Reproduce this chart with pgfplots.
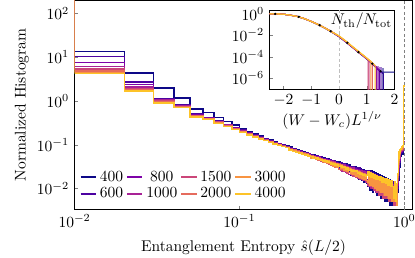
\documentclass[border=0pt]{standalone}
\usepackage{pgfplots}
\pgfplotsset{compat=1.18}
\usepackage{pgfplotstable}
\usetikzlibrary{calc}
\definecolor{c1}{HTML}{0D0887}
\definecolor{c2}{HTML}{4C02A1}
\definecolor{c3}{HTML}{7E03A8}
\definecolor{c4}{HTML}{A82296}
\definecolor{c5}{HTML}{CB4679}
\definecolor{c6}{HTML}{E56B5D}
\definecolor{c7}{HTML}{F89441}
\definecolor{c8}{HTML}{FDC328}
\pgfplotstableread{
s a b c d e f g h
0.005 300 300 300 300 300 300 300 300
0.01 13.5 10.4 7.5 6.1 5.4 4.9 4.5 4.2
0.02 4.4 2.7 2.4 2.1 1.95 1.85 1.75 1.7
0.03 2.0 1.15 1.1 1.05 1.0 0.95 0.92 0.9
0.04 1.17 0.82 0.8 0.78 0.76 0.74 0.72 0.7
0.05 0.65 0.5 0.48 0.47 0.46 0.45 0.44 0.43
0.06 0.54 0.42 0.41 0.40 0.40 0.39 0.39 0.38
0.07 0.42 0.35 0.34 0.33 0.33 0.32 0.32 0.31
0.08 0.34 0.29 0.285 0.28 0.275 0.27 0.265 0.26
0.09 0.28 0.25 0.24 0.235 0.23 0.228 0.225 0.22
0.10 0.235 0.215 0.21 0.205 0.2 0.198 0.195 0.192
0.11 0.2 0.19 0.185 0.18 0.177 0.174 0.171 0.168
0.12 0.178 0.17 0.165 0.16 0.157 0.155 0.153 0.151
0.13 0.158 0.152 0.148 0.145 0.142 0.14 0.138 0.136
0.14 0.14 0.136 0.133 0.13 0.128 0.126 0.125 0.124
0.15 0.128 0.124 0.121 0.119 0.117 0.116 0.115 0.114
0.16 0.118 0.114 0.112 0.11 0.108 0.107 0.106 0.104
0.17 0.108 0.105 0.103 0.101 0.1 0.099 0.098 0.097
0.18 0.1 0.098 0.096 0.094 0.093 0.092 0.091 0.09
0.19 0.094 0.091 0.089 0.088 0.087 0.086 0.085 0.085
0.20 .088 .084 .082 .080 .079 .078 .077 .076
0.21 .078 .080 .074 .077 .072 .075 .073 .071
0.22 .076 .070 .074 .069 .072 .068 .070 .067
0.23 .070 .072 .066 .068 .064 .066 .063 .065
0.24 .069 .064 .067 .061 .065 .060 .062 .059
0.25 .062 .066 .058 .062 .057 .061 .056 .058
0.26 .063 .058 .061 .055 .059 .054 .057 .055
0.27 .056 .060 .053 .057 .051 .055 .050 .053
0.28 .058 .053 .056 .050 .054 .048 .052 .049
0.29 .051 .055 .047 .053 .049 .051 .046 .050
0.30 .054 .049 .052 .045 .050 .044 .048 .046
0.31 .047 .052 .044 .049 .042 .047 .043 .045
0.32 .050 .045 .048 .041 .046 .040 .045 .042
0.33 .044 .048 .040 .046 .041 .044 .039 .043
0.34 .047 .042 .045 .038 .043 .037 .042 .040
0.35 .038 .045 .039 .043 .036 .041 .038 .039
0.36 .044 .037 .042 .035 .040 .034 .039 .036
0.37 .035 .042 .034 .040 .033 .038 .032 .037
0.38 .041 .034 .039 .032 .037 .031 .036 .034
0.39 .031 .039 .033 .037 .030 .036 .031 .035
0.40 .040 .031 .037 .028 .036 .027 .034 .032
0.41 .027 .038 .030 .035 .026 .034 .029 .033
0.42 .037 .029 .035 .025 .033 .027 .032 .030
0.43 .024 .036 .028 .034 .024 .032 .026 .031
0.44 .036 .027 .033 .023 .031 .025 .030 .028
0.45 .022 .034 .026 .032 .022 .030 .024 .029
0.46 .034 .025 .031 .021 .029 .023 .028 .026
0.47 .020 .032 .024 .030 .021 .028 .022 .027
0.48 .032 .023 .030 .020 .027 .021 .027 .025
0.49 .019 .031 .022 .029 .019 .027 .021 .026
0.50 .031 .022 .028 .019 .026 .020 .025 .024
0.51 .018 .030 .021 .027 .018 .026 .019 .025
0.52 .029 .020 .027 .017 .025 .019 .024 .022
0.53 .016 .029 .020 .026 .017 .024 .018 .023
0.54 .028 .019 .026 .016 .023 .017 .023 .021
0.55 .015 .027 .018 .025 .016 .023 .017 .022
0.56 .027 .018 .025 .015 .022 .016 .022 .020
0.57 .014 .026 .017 .024 .015 .022 .016 .021
0.58 .026 .017 .024 .014 .021 .015 .021 .019
0.59 .013 .025 .016 .023 .014 .021 .015 .020
0.60 .011 .026 .015 .024 .012 .022 .014 .024
0.61 .026 .014 .023 .011 .021 .013 .020 .019
0.62 .009 .024 .013 .022 .011 .020 .012 .023
0.63 .025 .013 .022 .010 .020 .012 .019 .018
0.64 .008 .023 .012 .021 .010 .019 .011 .022
0.65 .024 .012 .021 .009 .019 .011 .018 .017
0.66 .010 .022 .011 .020 .009 .018 .010 .021
0.67 .023 .011 .020 .008 .018 .010 .017 .016
0.68 .007 .021 .010 .019 .008 .017 .009 .020
0.69 .022 .010 .019 .008 .017 .009 .016 .016
0.70 .008 .020 .010 .018 .007 .016 .009 .019
0.71 .021 .009 .018 .007 .016 .008 .015 .015
0.72 .006 .019 .009 .017 .007 .015 .008 .019
0.73 .020 .009 .017 .007 .015 .008 .014 .014
0.74 .006 .018 .008 .016 .006 .015 .008 .018
0.75 .019 .008 .016 .006 .014 .007 .014 .014
0.76 .005 .017 .008 .015 .006 .014 .007 .017
0.77 .018 .007 .015 .006 .014 .007 .013 .013
0.78 .005 .016 .007 .015 .006 .013 .007 .017
0.79 .017 .007 .014 .006 .013 .006 .012 .012
0.80 .005 .016 .007 .014 .005 .013 .006 .016
0.81 .016 .006 .014 .005 .012 .006 .012 .012
0.82 .004 .015 .006 .013 .005 .012 .006 .015
0.83 .015 .006 .013 .005 .012 .006 .011 .011
0.84 .004 .014 .006 .013 .005 .011 .005 .015
0.85 .014 .006 .012 .005 .011 .005 .011 .011
0.86 .004 .014 .005 .012 .004 .011 .005 .006
0.87 .013 .005 .012 .004 .011 .005 .010 .014
0.88 .004 .013 .005 .011 .004 .010 .005 .009
0.89 .013 .005 .011 .004 .010 .005 .010 .005
0.90 .004 .012 .005 .011 .004 .010 .004 .013
0.91 .008 .010 .012 .014 .016 .018 .020 .022
0.92 .015 .020 .025 .030 .035 .040 .045 .050
0.93 .030 .040 .045 .050 .055 .060 .065 .068
0.94 .045 .055 .060 .065 .068 .070 .072 .075
0.95 .055 .062 .066 .070 .072 .075 .078 .080
0.96 .060 .066 .070 .073 .076 .078 .080 .085
0.97 .065 .070 .073 .076 .079 .082 .085 .090
0.98 .070 .074 .077 .080 .083 .086 .090 .095
0.99 .06 .08 .10 .12 .2 .4 1.0 2.2
1.00 .06 .08 .10 .12 .2 .4 1.0 2.2
}\hist
\begin{document}
\begin{tikzpicture}
\begin{axis}[name=main, scale only axis, width=217.7pt, height=134.7pt,
  xmode=log, ymode=log, xmin=0.01, xmax=1.12, ymin=0.0033, ymax=200,
  xtick={0.01,0.1,1}, ytick={0.01,0.1,1,10,100},
  xminorticks=false, yminorticks=false,
  tick pos=left, tick align=inside, major tick length=2.5pt,
  axis line style={line width=0.8pt},
  xlabel={Entanglement Entropy $\hat{s}(L/2)$},
  ylabel={Normalized Histogram},
  xlabel style={at={(axis description cs:0.5,-0.202)}, anchor=base},
  ylabel style={at={(axis description cs:-0.145,0.5)}, anchor=base},
  legend style={draw=none, fill=none, at={(axis description cs:0.01,0.02)}, anchor=south west,
    inner sep=1pt, row sep=-1.5pt, /tikz/every even column/.append style={column sep=0pt}},
  legend columns=2, transpose legend,
  legend image code/.code={\draw[#1] (0pt,0pt) -- (10pt,0pt);},
  every axis plot/.append style={const plot, line width=0.9pt},
]
\addplot[c1] table[x=s,y=a]{\hist};
\addplot[c2] table[x=s,y=b]{\hist};
\addplot[c3] table[x=s,y=c]{\hist};
\addplot[c4] table[x=s,y=d]{\hist};
\addplot[c5] table[x=s,y=e]{\hist};
\addplot[c6] table[x=s,y=f]{\hist};
\addplot[c7] table[x=s,y=g]{\hist};
\addplot[c8] table[x=s,y=h]{\hist};
\legend{400,600,800,1000,1500,2000,3000,4000}
\addplot[gray, line width=0.6pt, dash pattern=on 2pt off 1.5pt, forget plot] coordinates {(1,0.001) (1,1000)};
\end{axis}
\begin{axis}[name=inset, at={($(main.south west)+(125.7pt,77.6pt)$)}, anchor=south west,
  scale only axis, width=80.5pt, height=50.6pt,
  xmin=-2.5, xmax=2, ymode=log, ymin=1e-7, ymax=2,
  xtick={-2,-1,0,1,2}, ytick={1,1e-2,1e-4,1e-6}, yminorticks=false,
  tick pos=left, tick align=inside, major tick length=2pt,
  axis line style={line width=0.6pt},
  axis background/.style={fill=white},
  xlabel={$(W-W_c)L^{1/\nu}$},
  xlabel style={at={(axis description cs:0.5,-0.40)}, anchor=center},
  every axis plot/.append style={line width=0.7pt},
]
\addplot[gray!50, line width=0.6pt, dash pattern=on 2pt off 1.5pt] coordinates {(0,1e-9) (0,10)};
\addplot[c1] coordinates {(-2.5,1) (-2.25,0.976) (-2,0.91) (-1.75,0.735) (-1.5,0.555) (-1.25,0.348) (-1,0.19) (-0.75,0.096) (-0.5,0.044) (-0.25,0.0186) (0,7.3e-3) (0.25,2.3e-3) (0.5,6.9e-4) (0.75,2.05e-4) (1,6.2e-5) (1.25,1.6e-5) (1.5,3.8e-6) (2.5,3.8e-6)};
\addplot[c2] coordinates {(-2.5,1) (-2.25,0.977) (-2,0.912) (-1.75,0.741) (-1.5,0.562) (-1.25,0.355) (-1,0.195) (-0.75,0.1) (-0.5,0.0468) (-0.25,0.02) (0,7.6e-3) (0.25,2.4e-3) (0.5,7.1e-4) (0.75,2.15e-4) (1,6.5e-5) (1.25,1.7e-5) (1.5,4.2e-6) (1.6,2.6e-6) (1.6,1e-9)};
\addplot[c3] coordinates {(-2.5,1) (-2.25,0.977) (-2,0.912) (-1.75,0.741) (-1.5,0.562) (-1.25,0.355) (-1,0.195) (-0.75,0.1) (-0.5,0.0468) (-0.25,0.02) (0,7.75e-3) (0.25,2.45e-3) (0.5,7.25e-4) (0.75,2.2e-4) (1,6.7e-5) (1.25,1.75e-5) (1.45,6e-6) (1.45,1e-9)};
\addplot[c4] coordinates {(-2.5,1) (-2.25,0.977) (-2,0.912) (-1.75,0.741) (-1.5,0.562) (-1.25,0.355) (-1,0.195) (-0.75,0.1) (-0.5,0.0468) (-0.25,0.02) (0,7.9e-3) (0.25,2.5e-3) (0.5,7.4e-4) (0.75,2.24e-4) (1,6.8e-5) (1.25,1.8e-5) (1.35,1.1e-5) (1.35,1e-9)};
\addplot[c5] coordinates {(-2.5,1) (-2.25,0.977) (-2,0.912) (-1.75,0.741) (-1.5,0.562) (-1.25,0.355) (-1,0.195) (-0.75,0.1) (-0.5,0.0468) (-0.25,0.02) (0,8.1e-3) (0.25,2.6e-3) (0.5,7.6e-4) (0.75,2.3e-4) (1,7e-5) (1.05,5.5e-5) (1.05,1e-9)};
\addplot[c6] coordinates {(-2.5,1) (-2.25,0.977) (-2,0.912) (-1.75,0.741) (-1.5,0.562) (-1.25,0.355) (-1,0.195) (-0.75,0.1) (-0.5,0.0468) (-0.25,0.02) (0,8.3e-3) (0.25,2.65e-3) (0.5,7.8e-4) (0.75,2.37e-4) (1,7.2e-5) (1.2,2.8e-5) (1.2,1e-9)};
\addplot[c7] coordinates {(-2.5,1) (-2.25,0.977) (-2,0.912) (-1.75,0.741) (-1.5,0.562) (-1.25,0.355) (-1,0.195) (-0.75,0.1) (-0.5,0.0468) (-0.25,0.02) (0,8.6e-3) (0.25,2.75e-3) (0.5,8.1e-4) (0.75,2.46e-4) (1,7.5e-5) (1.15,3.6e-5) (1.15,1e-9)};
\addplot[c8] coordinates {(-2.5,1) (-2.25,0.977) (-2,0.912) (-1.75,0.741) (-1.5,0.562) (-1.25,0.355) (-1,0.195) (-0.75,0.1) (-0.5,0.0468) (-0.25,0.02) (0,9e-3) (0.25,2.85e-3) (0.5,8.5e-4) (0.75,2.58e-4) (1,7.8e-5) (1.25,2.1e-5) (1.3,1.6e-5) (1.3,1e-9)};
\addplot[c5, opacity=0.5, line width=1.5pt] coordinates {(1.08,1e-9) (1.08,3e-5)};
\addplot[c3, opacity=0.5, line width=2pt] coordinates {(1.4,1e-9) (1.4,1.5e-5)};
\addplot[c2, opacity=0.5, line width=2pt] coordinates {(1.5,1e-9) (1.5,1.2e-5)};
\addplot[c1, opacity=0.5, line width=1.5pt] coordinates {(1.58,1e-9) (1.58,1e-5)};
\addplot[black, only marks, mark=*, mark size=0.35pt] coordinates {(-2.3,0.98) (-1.45,0.52) (-0.7,0.088) (-0.3,0.024) (0.3,2e-3) (0.7,2.7e-4) (1.2,2.3e-5) (1.5,4.5e-6)};
\node[anchor=north east, inner sep=1.5pt] at (rel axis cs:1,1) {$N_{\mathrm{th}}/N_{\mathrm{tot}}$};
\end{axis}
\pgfresetboundingbox
\path[use as bounding box] ($(main.south west)+(-48.1pt,-30.8pt)$) rectangle ($(main.north east)+(1.7pt,0.3pt)$);
\end{tikzpicture}
\end{document}
